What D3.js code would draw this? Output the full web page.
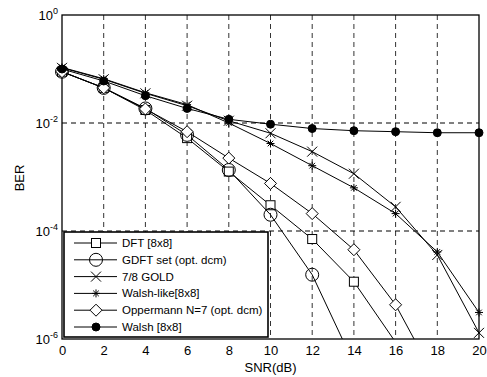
<!DOCTYPE html>
<html>
<head>
<meta charset="utf-8">
<script src="https://cdn.jsdelivr.net/npm/d3@7"></script>
<style>
  body { margin: 0; background: #fff; }
  text { font-family: "Liberation Sans", Arial, sans-serif; fill: #000; }
</style>
</head>
<body>
<div id="chart"></div>
<script>
const snr = [0, 2, 4, 6, 8, 10, 12, 14, 16, 18, 20];
const xTicks = [0, 2, 4, 6, 8, 10, 12, 14, 16, 18, 20];
const yTicks = [0, -2, -4, -6]; // exponents

const dft       = [0.0891, 0.0447, 0.0174, 0.00525, 0.00126, 3.0e-4, 7.1e-5, 1.15e-5, 8.7e-7];
const gdft      = [0.0891, 0.0447, 0.0186, 0.00603, 0.00135, 2.0e-4, 1.55e-5, 3.5e-7];
const gold      = [0.105, 0.0646, 0.0355, 0.0209, 0.011, 0.00646, 0.00295, 0.00115, 2.8e-4, 3.6e-5, 1.3e-6];
const walshLike = [0.107, 0.066, 0.0363, 0.0219, 0.0100, 0.00417, 0.00162, 6.3e-4, 2.1e-4, 4.1e-5, 3.1e-6];
const oppermann = [0.0891, 0.0447, 0.0182, 0.0069, 0.00224, 7.6e-4, 2.1e-4, 4.5e-5, 4.3e-6, 1.6e-7];
const walsh     = [0.100, 0.060, 0.032, 0.0186, 0.0117, 0.0095, 0.0079, 0.0072, 0.0069, 0.0066, 0.0066];

const series = [
  { name: "DFT [8x8]", values: dft, marker: "square" },
  { name: "GDFT set (opt. dcm)", values: gdft, marker: "circle" },
  { name: "7/8 GOLD", values: gold, marker: "x" },
  { name: "Walsh-like[8x8]", values: walshLike, marker: "star" },
  { name: "Oppermann N=7 (opt. dcm)", values: oppermann, marker: "diamond" },
  { name: "Walsh [8x8]", values: walsh, marker: "dot" }
];

const margin = { top: 15, right: 8, bottom: 38, left: 62 };
const W = 487, H = 377;
const width = W - margin.left - margin.right;
const height = H - margin.top - margin.bottom;

const svg = d3.select("#chart").append("svg")
  .attr("width", W).attr("height", H);
const g = svg.append("g").attr("transform", `translate(${margin.left},${margin.top})`);

const x = d3.scaleLinear().domain([0, 20]).range([0, width]);
const y = d3.scaleLog().domain([1e-6, 1]).range([height, 0]);

g.append("defs").append("clipPath").attr("id", "clip")
  .append("rect").attr("width", width).attr("height", height);

// grid
g.append("g").selectAll("line").data(xTicks.slice(1, -1)).join("line")
  .attr("x1", d => x(d)).attr("x2", d => x(d))
  .attr("y1", 0).attr("y2", height)
  .attr("stroke", "#333").attr("stroke-dasharray", "5,4").attr("stroke-width", 1);
g.append("g").selectAll("line").data(yTicks.slice(1, -1)).join("line")
  .attr("y1", d => y(Math.pow(10, d))).attr("y2", d => y(Math.pow(10, d)))
  .attr("x1", 0).attr("x2", width)
  .attr("stroke", "#000").attr("stroke-dasharray", "5,4").attr("stroke-width", 1);

// x axis labels
g.append("g").attr("transform", `translate(0,${height})`)
  .call(d3.axisBottom(x).tickValues(xTicks).tickSize(0).tickPadding(7).tickFormat(d3.format("d")))
  .call(a => a.select(".domain").remove())
  .selectAll("text").attr("font-size", 13).style("font-family", '"Liberation Sans", Arial, sans-serif');

// y axis labels with superscripts
const yl = g.append("g").selectAll("text").data(yTicks).join("text")
  .attr("x", -4).attr("y", d => y(Math.pow(10, d)) + 5)
  .attr("text-anchor", "end").attr("font-size", 13);
yl.append("tspan").text("10");
yl.append("tspan").attr("dy", -6).attr("font-size", 9).text(d => d === 0 ? "0" : String(d));

// frame
g.append("rect").attr("width", width).attr("height", height)
  .attr("fill", "none").attr("stroke", "#000").attr("stroke-width", 1.3);

// markers
function drawMarker(sel, type, cx, cy) {
  const m = sel.append("g").attr("transform", `translate(${cx},${cy})`)
    .attr("fill", "none").attr("stroke", "#000").attr("stroke-width", 1);
  if (type === "square") m.append("rect").attr("x", -4.5).attr("y", -4.5).attr("width", 9).attr("height", 9).attr("fill", "#fff");
  if (type === "circle") m.append("circle").attr("r", 6.5).attr("fill", "none");
  if (type === "x") m.append("path").attr("d", "M-5,-5L5,5M-5,5L5,-5");
  if (type === "star") m.append("path").attr("d", "M-4,0H4M0,-4V4M-2.8,-2.8L2.8,2.8M-2.8,2.8L2.8,-2.8");
  if (type === "diamond") m.append("path").attr("d", "M0,-6L6,0L0,6L-6,0Z").attr("fill", "#fff");
  if (type === "dot") m.append("circle").attr("r", 4).attr("fill", "#000");
}

const line = d3.line().x((d, i) => x(snr[i])).y(d => y(d));
const plot = g.append("g").attr("clip-path", "url(#clip)");
series.forEach(s => {
  plot.append("path").datum(s.values).attr("d", line)
    .attr("fill", "none").attr("stroke", "#000").attr("stroke-width", 1);
});
const mk = g.append("g");
series.forEach(s => {
  s.values.forEach((v, i) => {
    if (v >= 1e-6) drawMarker(mk, s.marker, x(snr[i]), y(v));
  });
});

// legend
const lg = g.append("g").attr("transform", `translate(2,${y(1e-4) + 1})`);
lg.append("rect").attr("width", 204).attr("height", 105)
  .attr("fill", "#fff").attr("stroke", "#000").attr("stroke-width", 1.6);
series.forEach((s, i) => {
  const ly = 11 + i * 16.8;
  lg.append("line").attr("x1", 10).attr("x2", 53).attr("y1", ly).attr("y2", ly)
    .attr("stroke", "#000");
  drawMarker(lg, s.marker, 32, ly);
  lg.append("text").attr("x", 58).attr("y", ly + 4).attr("font-size", 11.5).text(s.name);
});

// axis titles
svg.append("text").attr("x", margin.left + x(10)).attr("y", 372)
  .attr("text-anchor", "middle").attr("font-size", 13).text("SNR(dB)");
svg.append("text").attr("transform", "translate(24,178) rotate(-90)")
  .attr("text-anchor", "middle").attr("font-size", 13).text("BER");
</script>
</body>
</html>
